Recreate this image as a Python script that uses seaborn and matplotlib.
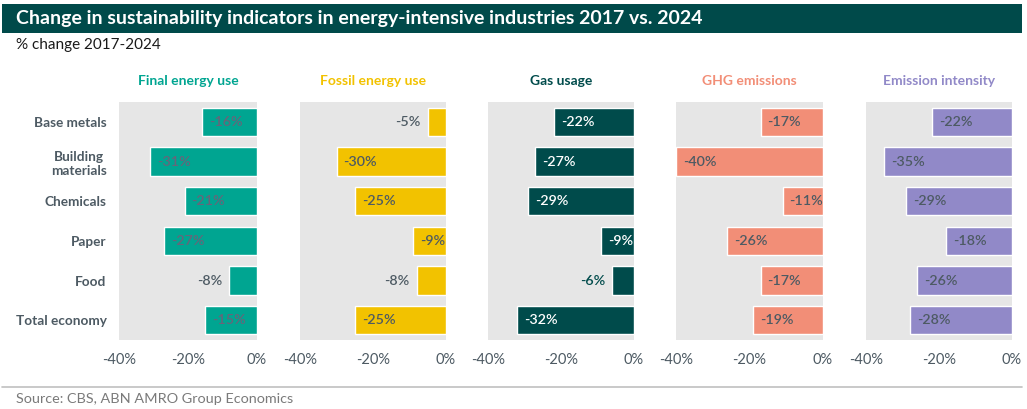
import matplotlib
matplotlib.use("Agg")
import matplotlib.pyplot as plt
import seaborn as sns
import pandas as pd
from matplotlib.patches import Rectangle
from matplotlib.lines import Line2D

sns.set_theme(style="white")
plt.rcParams['font.family'] = ['Lato', 'DejaVu Sans']

categories = ["Base metals", "Building\nmaterials", "Chemicals", "Paper", "Food", "Total economy"]
panel_titles = ["Final energy use", "Fossil energy use", "Gas usage", "GHG emissions", "Emission intensity"]
final_energy = [-16, -31, -21, -27, -8, -15]
fossil_energy = [-5, -30, -25, -9, -8, -25]
gas_usage = [-22, -27, -29, -9, -6, -32]
ghg_emissions = [-17, -40, -11, -26, -17, -19]
emission_intensity = [-22, -35, -29, -18, -26, -28]
x_ticks = [-40, -20, 0]
x_tick_labels = ["-40%", "-20%", "0%"]

series = [final_energy, fossil_energy, gas_usage, ghg_emissions, emission_intensity]
bar_colors = ["#00a591", "#f2c200", "#004b4b", "#f28e77", "#9189c8"]
title_colors = ["#00a591", "#f2c200", "#004b4b", "#f28e77", "#9189c8"]
inside_label_colors = ["#66667a", "#4d5a63", "#ffffff", "#4d5a63", "#4d5a63"]
outside_label_colors = ["#4d5a63", "#4d5a63", "#004b4b", "#4d5a63", "#4d5a63"]

W, H = 1027, 409
fig = plt.figure(figsize=(W / 100, H / 100), dpi=100)

# header bar
fig.patches.append(Rectangle((2 / W, 1 - 33 / H), 1020 / W, 29 / H, transform=fig.transFigure,
                             facecolor="#004a4a", edgecolor="none", zorder=0))
fig.text(16 / W, 1 - 18.5 / H, "Change in sustainability indicators in energy-intensive industries 2017 vs. 2024",
         color="white", fontsize=14, fontweight="bold", va="center", ha="left")
fig.text(16 / W, 1 - 45 / H, "% change 2017-2024", color="#1a1a1a", fontsize=11, va="center", ha="left")

# footer
fig.lines.append(Line2D([2 / W, 1022 / W], [1 - 387 / H, 1 - 387 / H], transform=fig.transFigure,
                        color="#c0c0c0", linewidth=1.2))
fig.text(16 / W, 1 - 399 / H, "Source: CBS, ABN AMRO Group Economics", color="#7a7a7a",
         fontsize=10.4, va="center", ha="left")

panel_x = [(119, 257), (300, 446), (488, 634), (676, 823), (866, 1012)]
top, bottom = 102, 340

for i, (vals, (x0, x1)) in enumerate(zip(series, panel_x)):
    ax = fig.add_axes([x0 / W, 1 - bottom / H, (x1 - x0) / W, (bottom - top) / H])
    df = pd.DataFrame({"category": categories, "value": vals})
    sns.barplot(data=df, x="value", y="category", orient="h", color=bar_colors[i],
                width=0.72, saturation=1, ax=ax)
    ax.set_facecolor("#e6e6e6")
    ax.set_xlim(-40, 0)
    ax.set_ylim(5.5, -0.5)
    for s in ax.spines.values():
        s.set_visible(False)
    ax.set_xticks(x_ticks)
    ax.set_xticklabels(x_tick_labels)
    ax.tick_params(axis="x", length=0, pad=9, labelsize=10.5, labelcolor="#4d5a63")
    ax.set_xlabel("")
    ax.set_ylabel("")
    if i == 0:
        ax.tick_params(axis="y", length=0, pad=9, labelsize=9.8, labelcolor="#4d5a63")
        for lab in ax.get_yticklabels():
            lab.set_fontweight("bold")
            lab.set_multialignment("center")
    else:
        ax.set_yticks([])
    ax.text(0.5, 1 + 21 / (bottom - top), panel_titles[i], transform=ax.transAxes,
            ha="center", va="center", fontsize=10, fontweight="bold", color=title_colors[i])
    for j, v in enumerate(vals):
        lbl = f"{v}%"
        if abs(v) >= 9:
            ax.annotate(lbl, xy=(v, j), xytext=(5, 0), textcoords="offset points",
                        ha="left", va="center", fontsize=10.3, color=inside_label_colors[i],
                        fontweight="semibold")
        else:
            ax.annotate(lbl, xy=(v, j), xytext=(-5, 0), textcoords="offset points",
                        ha="right", va="center", fontsize=10.3, color=outside_label_colors[i],
                        fontweight="semibold")

fig.savefig("out.png", dpi=100)
